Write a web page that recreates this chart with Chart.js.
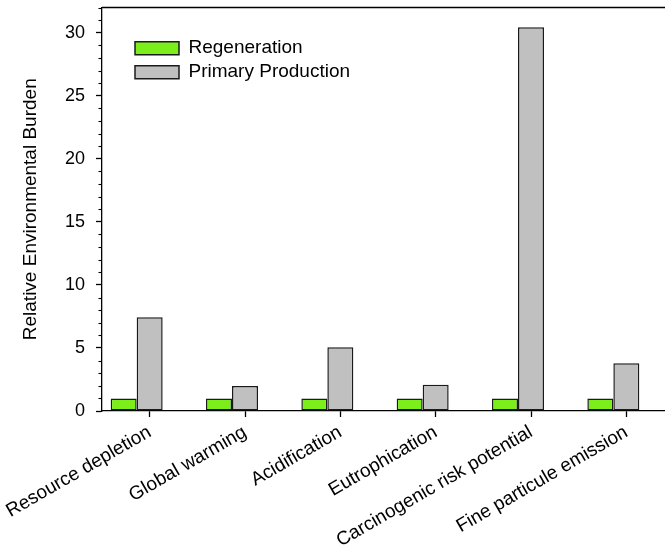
<!DOCTYPE html>
<html>
<head>
<meta charset="utf-8">
<script src="https://cdn.jsdelivr.net/npm/chart.js@4/dist/chart.umd.min.js"></script>
<style>
html,body{margin:0;padding:0;background:#fff;overflow:hidden;width:665px;height:548px}
#wrap{position:relative;width:676px;height:548px}
</style>
</head>
<body>
<div id="wrap"><canvas id="c" width="676" height="548"></canvas></div>
<script>
// ---- data ----
const categories = ['Resource depletion', 'Global warming', 'Acidification', 'Eutrophication', 'Carcinogenic risk potential', 'Fine particule emission'];
const seriesNames = ['Regeneration', 'Primary Production'];
const regeneration = [1, 1, 1, 1, 1, 1];
const primaryProduction = [7.43, 1.98, 5.05, 2.09, 30.43, 3.78];
const spacer = [null, null, null, null, null, null];
const yMin = 0;
const yMax = 32;
const yMajorStep = 5;
const yMinorStep = 1;
const yTitle = 'Relative Environmental Burden';

const FONT = "Arial, 'Liberation Sans', Helvetica, sans-serif";
const GREEN = '#7cee1a';
const GRAY = '#c0c0c0';
const EDGE = '#1a1a1a';

const framePlugin = {
  id: 'frame',
  afterLayout(chart) {
    const lg = chart.legend;
    if (lg) {
      const ca = chart.chartArea;
      const w = lg.width, h = lg.height;
      lg.left = ca.left + 28;
      lg.top = ca.top + 26.2;
      lg.right = lg.left + w;
      lg.bottom = lg.top + h;
    }
  },
  afterDraw(chart) {
    const {ctx, chartArea} = chart;
    const y = chart.scales.y;
    ctx.save();
    ctx.strokeStyle = '#000';
    ctx.lineWidth = 1.3;
    // top frame line
    ctx.beginPath();
    ctx.moveTo(chartArea.left, chartArea.top);
    ctx.lineTo(chartArea.right + 5, chartArea.top);
    ctx.stroke();
    // minor ticks on y axis
    ctx.lineWidth = 1.1;
    for (let v = yMin; v <= yMax; v += yMinorStep) {
      if (v % yMajorStep === 0) continue;
      const py = Math.round(y.getPixelForValue(v)) + 0.5;
      ctx.beginPath();
      ctx.moveTo(chartArea.left - 3.5, py);
      ctx.lineTo(chartArea.left, py);
      ctx.stroke();
    }
    ctx.restore();
  }
};

new Chart(document.getElementById('c'), {
  type: 'bar',
  data: {
    labels: categories,
    datasets: [
      { label: seriesNames[0], data: regeneration, backgroundColor: GREEN, borderColor: EDGE, borderWidth: 1.5, borderSkipped: false },
      { label: seriesNames[1], data: primaryProduction, backgroundColor: GRAY, borderColor: EDGE, borderWidth: 1.5, borderSkipped: false },
      { label: '', data: spacer, backgroundColor: 'rgba(0,0,0,0)', borderWidth: 0 }
    ]
  },
  options: {
    responsive: false,
    devicePixelRatio: 1,
    animation: false,
    categoryPercentage: 0.818,
    barPercentage: 1.0,
    layout: { padding: { left: 0, top: 7.5, right: 2, bottom: 0 } },
    plugins: {
      tooltip: { enabled: false },
      legend: {
        position: 'chartArea',
        align: 'start',
        labels: {
          filter: (item) => item.datasetIndex < 2,
          boxWidth: 44,
          boxHeight: 13,
          padding: 5,
          color: '#000',
          font: { family: FONT, size: 19 }
        }
      }
    },
    scales: {
      x: {
        type: 'category',
        offset: true,
        grid: { display: true, offset: false, drawOnChartArea: false, drawTicks: true, tickLength: 6, tickColor: '#000', tickWidth: 1.3 },
        border: { display: true, color: '#000', width: 1.3 },
        ticks: { autoSkip: false, maxRotation: 30, minRotation: 30, padding: 4, color: '#000', font: { family: FONT, size: 19 } },
        afterFit(scale) { scale.height = 137; scale.paddingLeft = 0; scale.paddingRight = 0; }
      },
      y: {
        min: yMin,
        max: yMax,
        grid: {
          display: true, drawOnChartArea: false, drawTicks: true, tickLength: 6, tickWidth: 1.3,
          tickColor: (ctx) => (ctx.tick && ctx.tick.value % yMajorStep === 0 ? '#000' : 'rgba(0,0,0,0)')
        },
        border: { display: true, color: '#000', width: 1.3 },
        ticks: {
          stepSize: yMinorStep,
          autoSkip: false,
          padding: 11,
          color: '#000',
          font: { family: FONT, size: 18 },
          callback: (v) => (v % yMajorStep === 0 && v <= 30 ? String(v) : '')
        },
        title: { display: true, text: yTitle, color: '#000', font: { family: FONT, size: 19 }, padding: { top: 19, bottom: 0 } },
        afterFit(scale) { scale.width = 102; scale.paddingTop = 0; scale.paddingBottom = 0; }
      }
    }
  },
  plugins: [framePlugin]
});
</script>
</body>
</html>
